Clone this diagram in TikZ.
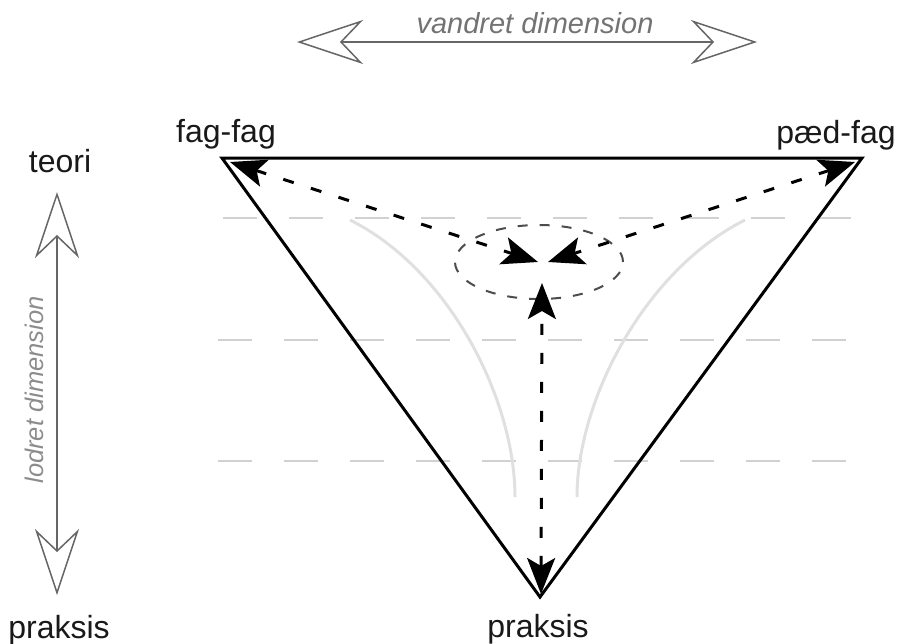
\documentclass[tikz,border=0pt]{standalone}
\usepackage{fontspec}
\setmainfont{Liberation Sans}
\usetikzlibrary{arrows.meta,shapes.geometric}
\begin{document}
\begin{tikzpicture}[x=1pt,y=-1pt,
  lbl/.style={font=\fontsize{32}{38}\selectfont, text=black!90, inner sep=0pt, anchor=base},
  dimtxt/.style={font=\itshape\fontsize{29}{34}\selectfont, text=black!55, inner sep=0pt, anchor=base},
  lodtxt/.style={font=\itshape\fontsize{25.5}{30}\selectfont, text=black!45, inner sep=0pt, anchor=base},
  tri/.style={draw=black, line width=3pt, line join=miter},
  guide/.style={draw=black!18, line width=2pt, dash pattern=on 34pt off 32pt},
  fan/.style={draw=black!12, line width=3pt},
  flow/.style={draw=black, line width=3pt, dash pattern=on 11pt off 18pt,
    >={Stealth[length=36pt,width=28pt,inset=8pt]}, <->},
  dimarrow/.style={draw=black!60, line width=2.5pt,
    >={Stealth[length=66pt,width=44pt,inset=21pt,fill=white,line width=1.5pt]}, <->},
  ring/.style={ellipse, draw=black!70, line width=2pt, dash pattern=on 10pt off 12pt,
    minimum width=168pt, minimum height=74pt, inner sep=0pt},
]
\useasboundingbox (0,0) rectangle (904,643);

% corners of the triangle
\coordinate (FF) at (222,158);
\coordinate (PF) at (862,158);
\coordinate (PR) at (540,597);

% horizontal guide lines
\coordinate (g1a) at (223,218); \coordinate (g1b) at (862,218);
\coordinate (g2a) at (218,340); \coordinate (g2b) at (856,340);
\coordinate (g3a) at (218,461); \coordinate (g3b) at (846,461);
\draw[guide] (g1a) -- (g1b);
\draw[guide] (g2a) -- (g2b);
\draw[guide] (g3a) -- (g3b);

% light grey fan curves
\draw[fan] (350,220) .. controls (450,270) and (515,400) .. (515,497);
\draw[fan] (745,220) .. controls (645,270) and (577,400) .. (577,497);

% triangle
\draw[tri] (FF) -- (PF) -- (PR) -- cycle;

% dashed ellipse
\node[ring] (ell) at (539,262) {};

% dashed double arrows
\coordinate (fA) at (230,162);
\coordinate (pA) at (855,162);
\coordinate (bA) at (541,594);
\coordinate (cL) at (538,262);
\coordinate (cR) at (548,262);
\coordinate (cB) at (542,283);
\draw[flow] (fA) -- (cL);
\draw[flow] (pA) -- (cR);
\draw[flow] (bA) -- (cB);

% dimension arrows
\coordinate (hL) at (297,42);
\coordinate (hR) at (757,42);
\coordinate (vT) at (57,192);
\coordinate (vB) at (57,595);
\draw[dimarrow] (hL) -- (hR);
\draw[dimarrow] (vT) -- (vB);

% texts
\node[dimtxt] (vd) at (535,33) {vandret dimension};
\node[lodtxt, rotate=90] (ld) at (43,390) {lodret dimension};
\node[lbl] (tff) at (226,142) {fag-fag};
\node[lbl] (tpf) at (836,143) {pæd-fag};
\node[lbl] (tteori) at (60,172) {teori};
\node[lbl] (tpl) at (59,638) {praksis};
\node[lbl] (tpb) at (538,637) {praksis};
\end{tikzpicture}
\end{document}
